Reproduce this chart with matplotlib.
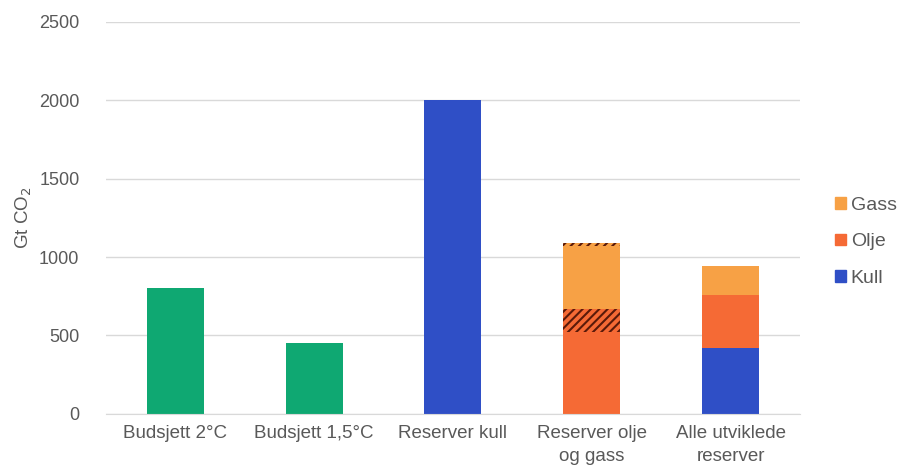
import matplotlib.pyplot as plt
import matplotlib.patches as mpatches
import numpy as np

plt.rcParams['font.family'] = ['Liberation Sans', 'DejaVu Sans']
plt.rcParams['hatch.linewidth'] = 1.5

categories = ["Budsjett 2°C", "Budsjett 1,5°C", "Reserver kull",
              "Reserver olje\nog gass", "Alle utviklede\nreserver"]
budget = [800, 450, 0, 0, 0]
kull = [0, 0, 2000, 0, 420]
olje = [0, 0, 0, 520, 340]
olje_usikker = [0, 0, 0, 150, 0]
gass = [0, 0, 0, 400, 180]
gass_usikker = [0, 0, 0, 20, 0]

green = "#0fa872"
blue = "#2f4fc6"
oil = "#f56a35"
gas = "#f7a145"
txt = "#595959"

fig = plt.figure(figsize=(9.05, 4.74), dpi=100)
ax = fig.add_axes([0.117, 0.127, 0.767, 0.827])

x = np.arange(len(categories))
w = 0.41
ax.bar(x, budget, w, color=green)
ax.bar(x, kull, w, color=blue)
bottom = np.array(kull)
ax.bar(x, olje, w, bottom=bottom, color=oil)
bottom = bottom + olje
ax.bar(x, olje_usikker, w, bottom=bottom, color=oil, hatch="////",
       edgecolor="#5a1a0a", linewidth=0)
bottom = bottom + olje_usikker
ax.bar(x, gass, w, bottom=bottom, color=gas)
bottom = bottom + gass
ax.bar(x, gass_usikker, w, bottom=bottom, color=gas, hatch="////",
       edgecolor="#5a1a0a", linewidth=0)

ax.set_xlim(-0.5, 4.5)
ax.set_ylim(0, 2500)
ax.set_yticks(range(0, 2501, 500))
ax.set_xticks(x)
ax.set_xticklabels(categories, fontsize=13.5, color=txt)
for lab in ax.get_xticklabels():
    lab.set_linespacing(1.5)
ax.tick_params(axis="y", labelsize=13, colors=txt, length=0, pad=19)
ax.tick_params(axis="x", length=0, pad=8)
ax.grid(axis="y", color="#d9d9d9", linewidth=1)
ax.set_axisbelow(True)
for s in ["top", "right", "left"]:
    ax.spines[s].set_visible(False)
ax.spines["bottom"].set_color("#d9d9d9")
ax.set_ylabel("Gt CO$_2$", fontsize=13.5, color=txt, labelpad=4)

handles = [mpatches.Patch(color=gas, label="Gass"),
           mpatches.Patch(color=oil, label="Olje"),
           mpatches.Patch(color=blue, label="Kull")]
leg = fig.legend(handles=handles, loc="center left", bbox_to_anchor=(0.912, 0.49),
                 frameon=False, fontsize=14, handlelength=0.55, handleheight=0.55,
                 handletextpad=0.25, labelspacing=1.0, borderpad=0)
for t in leg.get_texts():
    t.set_color(txt)

fig.savefig("out.png", dpi=100)
